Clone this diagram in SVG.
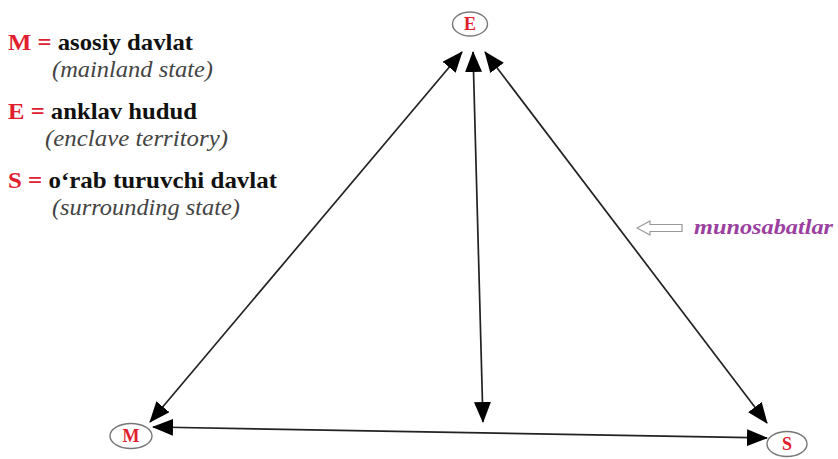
<svg xmlns="http://www.w3.org/2000/svg" width="838" height="459" viewBox="0 0 838 459">
<defs>
<marker id="ah" markerUnits="userSpaceOnUse" markerWidth="22" markerHeight="18" refX="20" refY="8.5" orient="auto-start-reverse" viewBox="0 0 22 18">
<path d="M0,0 L21,8.5 L0,17 z" fill="#000"/>
</marker>
<style>
.lg{font-family:'Liberation Serif','Times New Roman',serif;font-weight:bold;font-size:23px;fill:#111}
.red{fill:#e0202e}
.it{font-family:'Liberation Serif','Times New Roman',serif;font-style:italic;font-size:23px;fill:#444}
.node ellipse{fill:#fff;stroke:#777;stroke-width:1.4}
.node text{font-family:'Liberation Serif','Times New Roman',serif;font-weight:bold;font-size:18px;fill:#e0202e;text-anchor:middle}
.conn line{stroke:#222;stroke-width:1.7;marker-start:url(#ah);marker-end:url(#ah)}
.rel{font-family:'Liberation Serif','Times New Roman',serif;font-style:italic;font-weight:bold;font-size:20px;fill:#9b3fa0}
</style>
</defs>
<rect width="838" height="459" fill="#fff"/>
<g id="legend">
<text class="lg" x="8" y="50" textLength="185" lengthAdjust="spacingAndGlyphs"><tspan class="red">M =</tspan> asosiy davlat</text>
<text class="it" x="52" y="77" textLength="161" lengthAdjust="spacingAndGlyphs">(mainland state)</text>
<text class="lg" x="8" y="119" textLength="189" lengthAdjust="spacingAndGlyphs"><tspan class="red">E =</tspan> anklav hudud</text>
<text class="it" x="45" y="146" textLength="183" lengthAdjust="spacingAndGlyphs">(enclave territory)</text>
<text class="lg" x="8" y="188" textLength="269" lengthAdjust="spacingAndGlyphs"><tspan class="red">S =</tspan> o‘rab turuvchi davlat</text>
<text class="it" x="52" y="215" textLength="188" lengthAdjust="spacingAndGlyphs">(surrounding state)</text>
</g>
<g id="connectors" class="conn">
<line x1="462" y1="52" x2="150" y2="422"/>
<line x1="473" y1="52" x2="483" y2="422"/>
<line x1="485" y1="52" x2="767" y2="423"/>
<line x1="153" y1="427" x2="767" y2="438"/>
</g>
<g id="node-E" class="node"><ellipse cx="470" cy="24" rx="17.5" ry="12"/><text x="470" y="30">E</text></g>
<g id="node-M" class="node"><ellipse cx="131" cy="436" rx="21" ry="12.5"/><text x="131" y="442">M</text></g>
<g id="node-S" class="node"><ellipse cx="787" cy="444" rx="20" ry="12.5"/><text x="787" y="450">S</text></g>
<g id="label-relations">
<path d="M637,228 L650,221 L650,224.5 L682,224.5 L682,231.5 L650,231.5 L650,235 Z" fill="#fff" stroke="#999" stroke-width="1.2"/>
<text class="rel" x="694" y="234" textLength="139" lengthAdjust="spacingAndGlyphs">munosabatlar</text>
</g>
</svg>
